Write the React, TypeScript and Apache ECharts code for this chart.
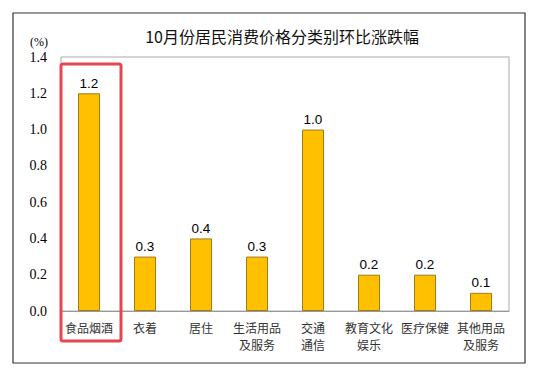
import React, { useEffect, useRef } from "react";
import * as echarts from "echarts";

const categories = [
  "食品烟酒",
  "衣着",
  "居住",
  "生活用品\n及服务",
  "交通\n通信",
  "教育文化\n娱乐",
  "医疗保健",
  "其他用品\n及服务",
];
const values = [1.2, 0.3, 0.4, 0.3, 1.0, 0.2, 0.2, 0.1];
const titleText = "10月份居民消费价格分类别环比涨跌幅";
const unitText = "(%)";

export default function App() {
  const ref = useRef<HTMLDivElement>(null);
  useEffect(() => {
    if (!ref.current) return;
    const chart = echarts.init(ref.current, undefined, { renderer: "svg" });
    chart.setOption({
      animation: false,
      backgroundColor: "#fff",
      title: {
        text: titleText,
        left: 277,
        textAlign: "center",
        top: 23,
        textStyle: {
          fontFamily: "Noto Sans CJK SC",
          fontSize: 16,
          fontWeight: "normal",
          color: "#111",
        },
      },
      grid: {
        left: 61,
        right: 49,
        top: 57,
        bottom: 63,
        show: true,
        borderColor: "#aaa",
        borderWidth: 1,
      },
      xAxis: {
        type: "category",
        data: categories,
        axisLine: { show: true, lineStyle: { color: "#999", width: 1 } },
        axisTick: { show: false },
        axisLabel: {
          interval: 0,
          margin: 8,
          color: "#333",
          fontSize: 12,
          lineHeight: 17,
          fontFamily: "Noto Sans CJK SC",
        },
      },
      yAxis: {
        type: "value",
        min: 0,
        max: 1.4,
        interval: 0.2,
        axisLine: { show: false },
        axisTick: { show: false },
        splitLine: { show: false },
        axisLabel: {
          margin: 14,
          color: "#000",
          fontSize: 14,
          fontFamily: "Liberation Serif",
          formatter: (v: number) => v.toFixed(1),
        },
      },
      series: [
        {
          type: "bar",
          data: values,
          barWidth: 22,
          itemStyle: {
            color: "#FFC000",
            borderColor: "#9C7C1C",
            borderWidth: 1,
          },
          label: {
            show: true,
            position: "top",
            distance: 3,
            color: "#000",
            fontSize: 13.5,
            fontFamily: "Liberation Sans",
            formatter: (p: any) => Number(p.value).toFixed(1),
          },
        },
      ],
      graphic: [
        {
          type: "rect",
          shape: { x: 13, y: 13, width: 512, height: 350 },
          style: { fill: "none", stroke: "#333", lineWidth: 1.2 },
          silent: true,
        },
        {
          type: "text",
          x: 30,
          y: 36,
          style: {
            text: unitText,
            fill: "#000",
            fontSize: 12,
            fontFamily: "Liberation Serif",
          },
          silent: true,
        },
        {
          type: "rect",
          shape: { x: 61, y: 64, width: 60, height: 277, r: 2 },
          style: { fill: "none", stroke: "#E4474F", lineWidth: 3 },
          silent: true,
          z: 100,
        },
      ],
    });
    return () => chart.dispose();
  }, []);
  return (
    <div
      ref={ref}
      style={{ position: "fixed", left: 0, top: 0, width: 558, height: 374 }}
    />
  );
}
